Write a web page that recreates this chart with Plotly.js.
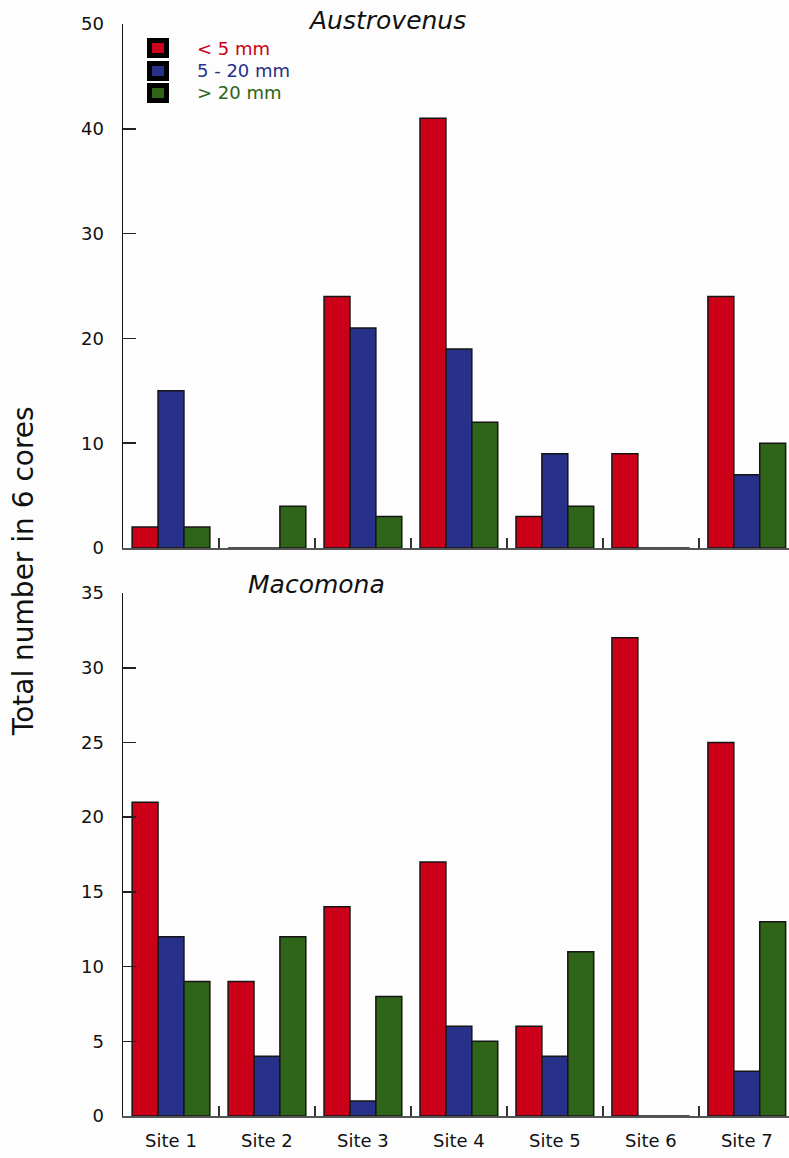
<!DOCTYPE html>
<html><head><meta charset="utf-8">
<script src="https://cdn.plot.ly/plotly-3.0.1.min.js"></script>
<style>html,body{margin:0;padding:0;background:#fff}</style>
</head><body><div id="chart" style="width:789px;height:1158px"></div>
<script>
const sites = ['Site 1','Site 2','Site 3','Site 4','Site 5','Site 6','Site 7'];
const sizeClasses = ['< 5 mm','5 - 20 mm','> 20 mm'];
const austroSmall  = [2, 0, 24, 41, 3, 9, 24];
const austroMedium = [15, 0, 21, 19, 9, 0, 7];
const austroLarge  = [2, 4, 3, 12, 4, 0, 10];
const macoSmall  = [21, 9, 14, 17, 6, 32, 25];
const macoMedium = [12, 4, 1, 6, 4, 0, 3];
const macoLarge  = [9, 12, 8, 5, 11, 0, 13];
const colors = ['#cc0019', '#28318a', '#2f6419'];

const FONT = 'DejaVu Sans, Liberation Sans, Arial, sans-serif';
const austro = [austroSmall, austroMedium, austroLarge];
const maco = [macoSmall, macoMedium, macoLarge];
const traces = [];
austro.forEach((vals, i) => traces.push({
  type: 'bar', x: sites, y: vals, name: sizeClasses[i], xaxis: 'x', yaxis: 'y',
  marker: {color: colors[i], line: {color: '#151515', width: 1.5}}, hoverinfo: 'x+y'
}));
maco.forEach((vals, i) => traces.push({
  type: 'bar', x: sites, y: vals, name: sizeClasses[i], xaxis: 'x2', yaxis: 'y2',
  marker: {color: colors[i], line: {color: '#151515', width: 1.5}}, hoverinfo: 'x+y'
}));

const xbase = {
  type: 'category', range: [-0.5, 6.44], tickson: 'boundaries', ticks: 'inside',
  ticklen: 10, tickwidth: 1.5, tickcolor: '#333', showline: true, linecolor: '#555',
  linewidth: 1.5, showgrid: false, zeroline: false, fixedrange: true,
  ticklabelstandoff: 8,
  tickfont: {family: FONT, size: 18, color: '#111'}
};
const ybase = {
  ticks: 'inside', ticklen: 13, tickwidth: 1.5, tickcolor: '#222', showline: true,
  linecolor: '#111', linewidth: 1.5, showgrid: false, zeroline: false,
  ticklabelstandoff: 14, tickfont: {family: FONT, size: 18, color: '#111'}
};

const annotations = [
  {text: '<i>Austrovenus</i>', xref: 'paper', yref: 'paper', x: 0.396, y: 1.003,
   xanchor: 'center', yanchor: 'middle', showarrow: false, font: {family: FONT, size: 25, color: '#111'}},
  {text: '<i>Macomona</i>', xref: 'paper', yref: 'paper', x: 0.29, y: 0.487,
   xanchor: 'center', yanchor: 'middle', showarrow: false, font: {family: FONT, size: 25, color: '#111'}},
  {text: 'Total number in 6 cores', xref: 'paper', yref: 'paper', x: -0.150, y: 0.499,
   xanchor: 'center', yanchor: 'middle', textangle: -90, showarrow: false,
   font: {family: FONT, size: 28, color: '#111'}}
];
const legY = [0.978, 0.957, 0.937];
sizeClasses.forEach((name, i) => {
  annotations.push({text: '&nbsp;', xref: 'paper', yref: 'paper', x: 0.053, y: legY[i],
    xanchor: 'center', yanchor: 'middle', showarrow: false, bgcolor: colors[i],
    bordercolor: '#000', borderwidth: 5, borderpad: 0, width: 12, height: 10,
    font: {size: 6}});
  annotations.push({text: name.replace('<', '&lt;').replace('>', '&gt;'), xref: 'paper', yref: 'paper',
    x: 0.108, y: legY[i], xanchor: 'left', yanchor: 'middle', showarrow: false,
    font: {family: FONT, size: 18, color: colors[i]}});
});

const layout = {
  width: 789, height: 1158, paper_bgcolor: '#fdfdfd', plot_bgcolor: '#fdfdfd',
  margin: {l: 123, r: 0, t: 24, b: 42},
  barmode: 'group', bargap: 0.19, bargroupgap: 0, showlegend: false,
  font: {family: FONT, color: '#111'},
  xaxis: Object.assign({}, xbase, {anchor: 'y', domain: [0, 1], showticklabels: false}),
  yaxis: Object.assign({}, ybase, {anchor: 'x', domain: [0.5201, 1], range: [0, 50], dtick: 10}),
  xaxis2: Object.assign({}, xbase, {anchor: 'y2', domain: [0, 1]}),
  yaxis2: Object.assign({}, ybase, {anchor: 'x2', domain: [0, 0.4789], range: [0, 35], dtick: 5}),
  annotations: annotations
};
Plotly.newPlot('chart', traces, layout, {displayModeBar: false, staticPlot: true});
</script></body></html>
